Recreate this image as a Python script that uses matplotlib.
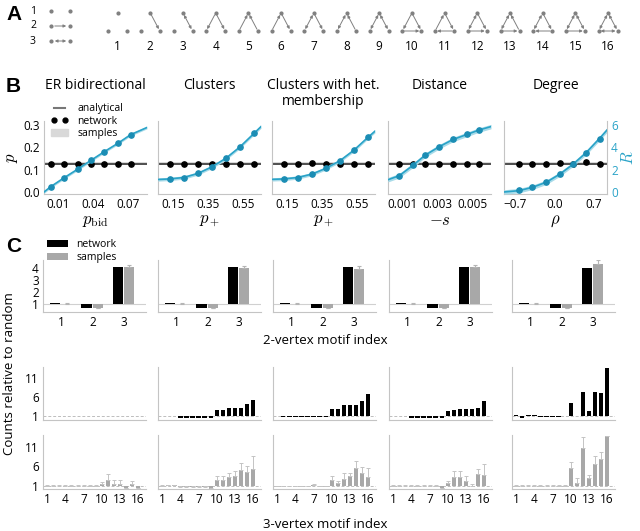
import matplotlib
matplotlib.use('Agg')
import numpy as np
import matplotlib.pyplot as plt
from matplotlib.patches import Patch
from matplotlib.lines import Line2D

plt.rcParams['font.family'] = ['Open Sans', 'DejaVu Sans']
plt.rcParams['mathtext.fontset'] = 'cm'

# ---------------- data ----------------
motif_ids = list(range(1, 17))
# edges of the triad motifs: (from, to, kind) nodes 0=top 1=bottom-left 2=bottom-right, kind 2 = bidirectional
motif_edges = [
    [],
    [(0, 2, 1)],
    [(0, 2, 2)],
    [(0, 1, 1), (0, 2, 1)],
    [(1, 0, 1), (2, 0, 1)],
    [(1, 0, 1), (0, 2, 1)],
    [(0, 1, 2), (0, 2, 1)],
    [(0, 1, 2), (2, 0, 1)],
    [(0, 1, 2), (0, 2, 2)],
    [(0, 1, 1), (0, 2, 1), (1, 2, 1)],
    [(1, 0, 1), (0, 2, 1), (2, 1, 1)],
    [(0, 1, 2), (0, 2, 1), (1, 2, 1)],
    [(0, 1, 2), (2, 0, 1), (1, 2, 1)],
    [(0, 1, 2), (0, 2, 1), (2, 1, 1)],
    [(0, 1, 2), (0, 2, 2), (1, 2, 1)],
    [(0, 1, 2), (0, 2, 2), (1, 2, 2)],
]

titles = ['ER bidirectional', 'Clusters', 'Clusters with het.\nmembership', 'Distance', 'Degree']
xlabels = [r'$p_{\rm bid}$', r'$p_+$', r'$p_+$', r'$-s$', r'$\rho$']
xlims = [(-0.0023, 0.086), (0.063, 0.65), (0.063, 0.65), (0.00015, 0.0061), (-0.9, 0.945)]
xticks = [[0.01, 0.04, 0.07], [0.15, 0.35, 0.55], [0.15, 0.35, 0.55],
          [0.001, 0.003, 0.005], [-0.7, 0.0, 0.7]]
xticklabels = [['0.01', '0.04', '0.07'], ['0.15', '0.35', '0.55'], ['0.15', '0.35', '0.55'],
               ['0.001', '0.003', '0.005'], ['\u22120.7', '0.0', '0.7']]

# sweep parameter values of the simulated networks
x_er = [0.0035, 0.015, 0.0265, 0.038, 0.0495, 0.061, 0.072]
x_cl = [0.13, 0.21, 0.29, 0.37, 0.45, 0.53, 0.61]
x_het = [0.13, 0.21, 0.29, 0.37, 0.45, 0.53, 0.61]
x_dist = [0.0008, 0.0016, 0.0023, 0.0031, 0.0039, 0.0047, 0.0054]
x_deg = [-0.63, -0.39, -0.14, 0.10, 0.34, 0.57, 0.82]

# connection probability p (black)
p_er = [0.127, 0.127, 0.127, 0.127, 0.127, 0.127, 0.127]
p_cl = [0.127, 0.127, 0.127, 0.127, 0.127, 0.127, 0.127]
p_het = [0.127, 0.127, 0.128, 0.127, 0.127, 0.127, 0.127]
p_dist = [0.127, 0.127, 0.127, 0.127, 0.127, 0.127, 0.127]
p_deg = [0.127, 0.127, 0.127, 0.131, 0.125, 0.133, 0.127]
p_analytical = 0.127

# reciprocity R (blue)
r_er = [0.48, 1.28, 2.04, 2.84, 3.62, 4.36, 5.14]
r_cl = [1.17, 1.28, 1.68, 2.27, 3.02, 4.06, 5.32]
r_het = [1.17, 1.28, 1.59, 2.13, 2.78, 3.74, 4.90]
r_dist = [1.46, 2.42, 3.32, 4.06, 4.72, 5.17, 5.59]
r_deg = [0.15, 0.42, 0.87, 1.59, 2.48, 3.47, 4.73]

# analytical R curves
rc_x_er = [-0.0023, 0.0035, 0.015, 0.0265, 0.038, 0.0495, 0.061, 0.072, 0.086]
rc_er = [0.0, 0.48, 1.28, 2.04, 2.84, 3.62, 4.36, 5.14, 5.78]
rc_x_cl = [0.063, 0.13, 0.21, 0.29, 0.37, 0.45, 0.53, 0.61, 0.65]
rc_cl = [1.12, 1.17, 1.30, 1.66, 2.25, 3.02, 4.04, 5.25, 5.86]
rc_x_het = [0.063, 0.13, 0.21, 0.29, 0.37, 0.45, 0.53, 0.61, 0.65]
rc_het = [1.13, 1.17, 1.30, 1.60, 2.12, 2.80, 3.75, 4.90, 5.45]
rc_x_dist = [0.00015, 0.0008, 0.0016, 0.0023, 0.0031, 0.0039, 0.0047, 0.0054, 0.0061]
rc_dist = [1.10, 1.46, 2.40, 3.30, 4.05, 4.70, 5.15, 5.55, 5.86]
rc_x_deg = [-0.9, -0.63, -0.39, -0.14, 0.10, 0.34, 0.57, 0.82, 0.945]
rc_deg = [0.0, 0.12, 0.42, 0.88, 1.60, 2.50, 3.52, 4.85, 5.55]
r_band = [0.12, 0.15, 0.15, 0.2, 0.2]

# 2-vertex motif counts relative to random
m2_idx = [1, 2, 3]
net2_er = [1.05, 0.67, 4.10]
net2_cl = [1.05, 0.67, 4.10]
net2_het = [1.05, 0.67, 4.10]
net2_dist = [1.05, 0.67, 4.10]
net2_deg = [1.05, 0.67, 4.03]
smp2_er = [1.03, 0.67, 4.05]
smp2_cl = [1.03, 0.67, 4.00]
smp2_het = [1.03, 0.67, 3.90]
smp2_dist = [1.03, 0.67, 4.10]
smp2_deg = [1.03, 0.67, 4.30]
err2_er = [0.02, 0.03, 0.20]
err2_cl = [0.02, 0.03, 0.20]
err2_het = [0.02, 0.03, 0.25]
err2_dist = [0.02, 0.03, 0.18]
err2_deg = [0.02, 0.03, 0.35]

# 3-vertex motif counts relative to random
net3_er = [1.0, 1.0, 1.0, 1.0, 1.0, 1.0, 1.0, 1.0, 1.0, 1.0, 1.0, 1.0, 1.0, 1.0, 1.0, 1.0]
net3_cl = [1.1, 1.2, 1.2, 0.6, 0.6, 0.6, 0.6, 0.6, 0.5, 2.8, 2.8, 3.3, 3.3, 3.3, 4.2, 5.3]
net3_het = [1.2, 0.9, 0.9, 0.9, 0.9, 0.9, 0.9, 0.9, 0.9, 3.0, 3.0, 4.1, 4.1, 4.1, 5.1, 6.9]
net3_dist = [1.1, 1.2, 1.2, 0.6, 0.6, 0.6, 0.6, 0.6, 0.5, 2.5, 2.7, 2.9, 2.9, 2.9, 3.2, 5.2]
net3_deg = [1.3, 0.7, 1.5, 1.5, 0.9, 0.9, 0.9, 0.9, 1.0, 4.6, 1.0, 7.4, 2.5, 7.4, 7.2, 13.8]
smp3_er = [1.05, 1.05, 1.05, 1.05, 1.05, 1.05, 1.05, 1.05, 1.1, 1.6, 2.5, 1.6, 1.6, 0.4, 1.6, 0.4]
smp3_cl = [1.1, 1.2, 1.2, 0.8, 0.8, 0.8, 0.8, 0.8, 0.3, 2.6, 2.5, 3.2, 3.5, 5.0, 4.5, 5.3]
smp3_het = [1.0, 1.0, 1.0, 1.0, 1.0, 1.0, 1.3, 1.0, 1.0, 2.6, 1.8, 2.9, 3.5, 5.7, 4.4, 3.2]
smp3_dist = [1.1, 1.1, 1.1, 1.1, 1.1, 1.1, 1.1, 1.1, 0.5, 1.8, 3.2, 3.4, 2.3, 1.0, 4.1, 3.9]
smp3_deg = [1.1, 1.1, 1.1, 1.1, 1.1, 1.1, 1.1, 1.1, 1.1, 5.5, 1.7, 10.7, 3.0, 6.6, 7.9, 13.8]
err3_er = [0.1, 0.1, 0.1, 0.1, 0.1, 0.1, 0.1, 0.1, 0.2, 0.5, 1.6, 0.9, 0.9, 0.0, 0.8, 0.0]
err3_cl = [0.1, 0.1, 0.1, 0.1, 0.1, 0.1, 0.1, 0.1, 0.1, 1.0, 1.0, 1.2, 1.2, 1.8, 1.5, 3.3]
err3_het = [0.1, 0.1, 0.1, 0.1, 0.1, 0.1, 0.1, 0.1, 0.1, 0.9, 0.5, 1.3, 0.9, 1.7, 1.5, 2.5]
err3_dist = [0.1, 0.1, 0.1, 0.1, 0.1, 0.1, 0.1, 0.1, 0.1, 0.5, 1.7, 1.3, 1.3, 0.4, 1.3, 2.6]
err3_deg = [0.1, 0.1, 0.1, 0.1, 0.1, 0.1, 0.1, 0.1, 0.1, 1.7, 1.3, 2.9, 0.8, 2.1, 1.7, 0.0]

x_all = [x_er, x_cl, x_het, x_dist, x_deg]
p_all = [p_er, p_cl, p_het, p_dist, p_deg]
r_all = [r_er, r_cl, r_het, r_dist, r_deg]
rc_x_all = [rc_x_er, rc_x_cl, rc_x_het, rc_x_dist, rc_x_deg]
rc_all = [rc_er, rc_cl, rc_het, rc_dist, rc_deg]
net2_all = [net2_er, net2_cl, net2_het, net2_dist, net2_deg]
smp2_all = [smp2_er, smp2_cl, smp2_het, smp2_dist, smp2_deg]
err2_all = [err2_er, err2_cl, err2_het, err2_dist, err2_deg]
net3_all = [net3_er, net3_cl, net3_het, net3_dist, net3_deg]
smp3_all = [smp3_er, smp3_cl, smp3_het, smp3_dist, smp3_deg]
err3_all = [err3_er, err3_cl, err3_het, err3_dist, err3_deg]

# ---------------- style ----------------
W, H = 640, 531
CYAN = '#2aa3c8'
CYAN_DOT = '#1b8db4'
CYAN_BAND = '#a8dbe9'
GRAY_BAR = '#a8a8a8'
SPINE = '#c4c4c4'
MOTIF = '#808080'


def rect(l, t, r, b):
    return [l / W, 1 - b / H, (r - l) / W, (b - t) / H]


def clean(ax, left=True, bottom=True):
    for s in ['top', 'right']:
        ax.spines[s].set_visible(False)
    ax.spines['left'].set_visible(left)
    ax.spines['bottom'].set_visible(bottom)
    ax.spines['left'].set_color(SPINE)
    ax.spines['bottom'].set_color(SPINE)
    ax.tick_params(length=0, labelsize=8.5, pad=3)


fig = plt.figure(figsize=(6.4, 5.31), dpi=100)

# ---------------- panel A ----------------
axA = fig.add_axes([0, 0, 1, 1])
axA.set_xlim(0, W)
axA.set_ylim(H, 0)
axA.axis('off')
for lab, y in zip(['A', 'B', 'C'], [14, 86, 247]):
    axA.text(6, y, lab, fontsize=15, fontweight='bold', family='Liberation Sans',
             ha='left', va='center')

# 2-vertex motifs
for k, y in zip(m2_idx, [11, 26, 41]):
    axA.text(33, y, str(k), fontsize=7.5, ha='center', va='center')
    axA.plot([51, 70], [y, y], 'o', color=MOTIF, ms=2)
    if k == 2:
        axA.annotate('', xy=(69, y), xytext=(52, y),
                     arrowprops=dict(arrowstyle='-|>', color=MOTIF, lw=0.7, mutation_scale=4))
    elif k == 3:
        axA.annotate('', xy=(69, y), xytext=(52, y),
                     arrowprops=dict(arrowstyle='<|-|>', color=MOTIF, lw=0.7, mutation_scale=4))

# 3-vertex motifs
for k, edges in zip(motif_ids, motif_edges):
    cx = 117.6 + (k - 1) * 32.7
    nodes = [(cx, 13), (cx - 9.5, 31), (cx + 9.5, 31)]
    axA.plot([n[0] for n in nodes], [n[1] for n in nodes], 'o', color=MOTIF, ms=2)
    for a, b, kind in edges:
        style = '<|-|>' if kind == 2 else '-|>'
        axA.annotate('', xy=nodes[b], xytext=nodes[a],
                     arrowprops=dict(arrowstyle=style, color=MOTIF, lw=0.7,
                                     mutation_scale=4, shrinkA=1.5, shrinkB=1.5))
    axA.text(cx, 47, str(k), fontsize=8.5, ha='center', va='center')

# ---------------- panel B ----------------
b_lefts = [44, 158, 272, 388, 504]
for i in range(5):
    l = b_lefts[i]
    ax = fig.add_axes(rect(l, 121, l + 103, 194))
    clean(ax)
    ax.set_xlim(*xlims[i])
    ax.set_ylim(-0.009, 0.318)
    ax.set_xticks(xticks[i])
    ax.set_xticklabels(xticklabels[i])
    ax.set_xlabel(xlabels[i], fontsize=12, labelpad=1)
    ax.axhspan(p_analytical - 0.007, p_analytical + 0.007, color='#d9d9d9', lw=0)
    ax.axhline(p_analytical, color='#444444', lw=1.3)
    ax.plot(x_all[i], p_all[i], 'o', color='black', ms=3.8, zorder=5)
    if i == 0:
        ax.set_yticks([0.0, 0.1, 0.2, 0.3])
        ax.set_yticklabels(['0.0', '0.1', '0.2', '0.3'])
        ax.set_ylabel(r'$p$', fontsize=12, labelpad=2)
        handles = [Line2D([], [], color='#777777', lw=1.5),
                   Line2D([], [], color='black', marker='o', ls='none', ms=3.5),
                   Patch(color='#d9d9d9')]
        ax.legend(handles, ['analytical', 'network', 'samples'], loc='upper left',
                  bbox_to_anchor=(0.03, 1.3), frameon=False, fontsize=7.5, numpoints=2,
                  handlelength=1.6, handletextpad=0.9, labelspacing=0.15, borderaxespad=0)
    else:
        ax.set_yticks([])
    fig.text((l + 51.5) / W, 1 - 78 / H, titles[i], fontsize=10, ha='center', va='top',
             linespacing=1.1)

    ax2 = ax.twinx()
    ax2.set_ylim(-0.18, 6.36)
    for s in ['top', 'left', 'bottom']:
        ax2.spines[s].set_visible(False)
    ax2.spines['right'].set_color(SPINE)
    ax2.tick_params(length=0, labelsize=8.5, colors=CYAN, pad=3)
    lo = [v - r_band[i] for v in rc_all[i]]
    hi = [v + r_band[i] for v in rc_all[i]]
    ax2.fill_between(rc_x_all[i], lo, hi, color=CYAN_BAND, lw=0)
    ax2.plot(rc_x_all[i], rc_all[i], color=CYAN, lw=1.2)
    ax2.plot(x_all[i], r_all[i], 'o', color=CYAN_DOT, ms=3.8, zorder=5)
    if i == 4:
        ax2.set_yticks([0, 2, 4, 6])
        ax2.set_ylabel(r'$R$', fontsize=12, color=CYAN, labelpad=2)
    else:
        ax2.set_yticks([])
        ax2.spines['right'].set_visible(False)

# ---------------- panel C ----------------
c_lefts = [43, 158, 273, 389, 512]
w = 0.33
for i in range(5):
    l = c_lefts[i]
    # 2-vertex
    ax = fig.add_axes(rect(l, 260, l + 103, 312))
    clean(ax)
    ax.set_xlim(0.42, 3.72)
    ax.set_ylim(0.33, 4.67)
    ax.axhline(1, color='#d0d0d0', lw=0.8, zorder=0)
    xs = np.array(m2_idx)
    ax.bar(xs - w / 2 - 0.02, [v - 1 for v in net2_all[i]], width=w, bottom=1,
           color='black', label='network')
    ax.bar(xs + w / 2 + 0.02, [v - 1 for v in smp2_all[i]], width=w, bottom=1,
           color=GRAY_BAR, label='samples',
           yerr=[[0] * 3, err2_all[i]], ecolor='#b5b5b5',
           error_kw=dict(lw=0.8, capsize=1.5, capthick=0.8))
    ax.set_xticks(m2_idx)
    if i == 0:
        ax.set_yticks([1, 2, 3, 4])
        ax.legend(loc='upper left', bbox_to_anchor=(0.0, 1.48), frameon=False,
                  fontsize=7.5, handlelength=2.0, handleheight=0.55,
                  handletextpad=0.8, labelspacing=0.2, borderaxespad=0)
    else:
        ax.set_yticks([])

    # 3-vertex, network and samples
    rows = [(367, 420, net3_all[i], None, 'black', (0.08, 14.0)),
            (435, 489, smp3_all[i], err3_all[i], GRAY_BAR, (0.24, 14.0))]
    for r, (t, b, vals, errs, col, yl) in enumerate(rows):
        ax = fig.add_axes(rect(l, t, l + 103, b))
        clean(ax)
        ax.set_xlim(0.3, 17.3)
        ax.set_ylim(*yl)
        ax.axhline(1, color='#bdbdbd', lw=0.7, ls=(0, (3, 2)), zorder=0)
        heights = [v - 1 for v in vals]
        if errs is None:
            ax.bar(motif_ids, heights, width=0.72, bottom=1, color=col)
        else:
            ax.bar(motif_ids, heights, width=0.72, bottom=1, color=col,
                   yerr=[[0] * 16, errs], ecolor='#c4c4c4',
                   error_kw=dict(lw=0.7, capsize=1.2, capthick=0.7))
        if r == 1:
            ax.set_xticks([1, 4, 7, 10, 13, 16])
        else:
            ax.set_xticks([])
        if i == 0:
            ax.set_yticks([1, 6, 11])
        else:
            ax.set_yticks([])

fig.text(325 / W, 1 - 341 / H, '2-vertex motif index', fontsize=9.5, ha='center', va='center')
fig.text(325 / W, 1 - 524 / H, '3-vertex motif index', fontsize=9.5, ha='center', va='center')
fig.text(10 / W, 1 - 374 / H, 'Counts relative to random', fontsize=9.5, rotation=90,
         ha='center', va='center')

fig.savefig('out.png', dpi=100)
